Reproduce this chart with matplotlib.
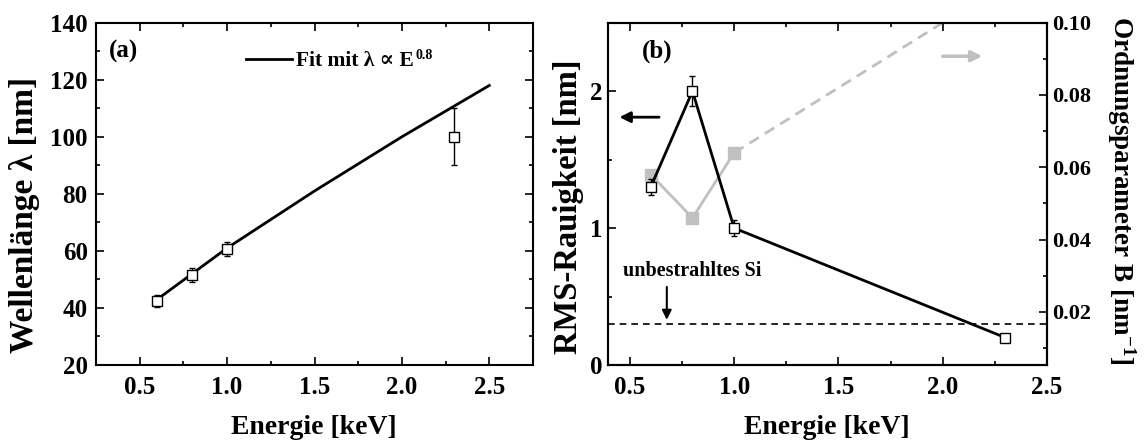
import matplotlib
matplotlib.use("Agg")
import matplotlib.pyplot as plt
from matplotlib.ticker import MultipleLocator, FormatStrFormatter

# ─── Data ─────────────────────────────────────────────────────────────────
energie_a        = [0.6, 0.8, 1.0, 2.3]
wellenlaenge     = [42.5, 51.6, 60.6, 100.0]
wellenlaenge_err = [2.0, 2.5, 2.4, 10.0]

fit_energie      = [0.6, 0.8, 1.0, 1.5, 2.0, 2.5]
fit_wellenlaenge = [43.0, 52.0, 61.0, 81.0, 100.0, 118.0]

energie_b  = [0.6, 0.8, 1.0, 2.3]
rms        = [1.30, 2.00, 1.00, 0.20]
rms_err    = [0.06, 0.11, 0.06, 0.0]

ordnung_e        = [0.6, 0.8, 1.0]
ordnung          = [0.058, 0.046, 0.064]
ordnung_trend_e  = [1.0, 2.0]
ordnung_trend    = [0.064, 0.100]

si_referenz = 0.30

GREY = "#c0c0c0"
W, H = 1146, 443

plt.rcParams["font.family"] = ["Liberation Serif", "DejaVu Serif"]
plt.rcParams["font.weight"] = "bold"
plt.rcParams["mathtext.fontset"] = "custom"
plt.rcParams["mathtext.rm"] = "Liberation Serif:bold"
plt.rcParams["mathtext.it"] = "Liberation Serif:bold"
plt.rcParams["mathtext.bf"] = "Liberation Serif:bold"
plt.rcParams["axes.linewidth"] = 1.5


def style_axis(ax, right=True):
    ax.tick_params(which="both", direction="in", top=True, right=right,
                   width=1.2, labelsize=18, pad=6)
    ax.tick_params(which="major", length=5.5)
    ax.tick_params(which="minor", length=3)
    ax.tick_params(axis="x", pad=8)


fig = plt.figure(figsize=(W / 100, H / 100), dpi=100)

# ─── (a) Wellenlänge ──────────────────────────────────────────────────────
ax1 = fig.add_axes([96 / W, 1 - 365 / H, 437 / W, 342.3 / H])
ax1.plot(fit_energie, fit_wellenlaenge, color="k", lw=2,
         label="Fit mit λ ∝ E")
ax1.errorbar(energie_a, wellenlaenge, yerr=wellenlaenge_err, fmt="s",
             ms=7.5, mfc="white", mec="k", mew=1, ecolor="k", elinewidth=1,
             capsize=2.5, capthick=1, zorder=3)
ax1.set_xlim(0.25, 2.75)
ax1.set_ylim(20, 140)
ax1.xaxis.set_major_locator(MultipleLocator(0.5))
ax1.xaxis.set_minor_locator(MultipleLocator(0.25))
ax1.yaxis.set_major_locator(MultipleLocator(20))
ax1.yaxis.set_minor_locator(MultipleLocator(10))
style_axis(ax1)
ax1.text(0.41, 129.8, "(a)", fontsize=18, ha="center", va="center")
leg = ax1.legend(loc="center left", bbox_to_anchor=(0.343, 0.888),
                 frameon=False, fontsize=15.5, handlelength=2.15,
                 handletextpad=0.2, borderaxespad=0, borderpad=0)

# ─── (b) Rauigkeit + Ordnungsparameter ────────────────────────────────────
ax2 = fig.add_axes([608 / W, 1 - 365 / H, 439 / W, 342.3 / H])
ax2.axhline(si_referenz, color="k", lw=1.2, ls=(0, (4, 3)))
ax2.errorbar(energie_b, rms, yerr=rms_err, fmt="s-", color="k", lw=2,
             ms=7.5, mfc="white", mec="k", mew=1, ecolor="k", elinewidth=1,
             capsize=2.5, capthick=1, zorder=3)
ax2.set_xlim(0.395, 2.5)
ax2.set_ylim(0, 2.5)
ax2.xaxis.set_major_locator(MultipleLocator(0.5))
ax2.xaxis.set_minor_locator(MultipleLocator(0.25))
ax2.yaxis.set_major_locator(MultipleLocator(1))
ax2.yaxis.set_minor_locator(MultipleLocator(0.5))
style_axis(ax2, right=False)
ax2.tick_params(axis="y", pad=4)

ax2.text(0.63, 2.29, "(b)", fontsize=18, ha="center", va="center")
ax2.text(0.466, 0.69, "unbestrahltes Si", fontsize=14.5, ha="left",
         va="center")
ax2.annotate("", xy=(0.677, 0.33), xytext=(0.677, 0.57),
             arrowprops=dict(arrowstyle="-|>", color="k", lw=1.5,
                             mutation_scale=14, shrinkA=0, shrinkB=0))
ax2.annotate("", xy=(0.45, 1.81), xytext=(0.64, 1.81),
             arrowprops=dict(arrowstyle="-|>", color="k", lw=2,
                             mutation_scale=16, shrinkA=0, shrinkB=0))
ax2.annotate("", xy=(2.19, 2.255), xytext=(2.0, 2.255),
             arrowprops=dict(arrowstyle="-|>", color=GREY, lw=2.5,
                             mutation_scale=16, shrinkA=0, shrinkB=0))

ax3 = ax2.twinx()
ax3.plot(ordnung_e, ordnung, "s-", color=GREY, lw=2, ms=8, mec=GREY)
ax3.plot(ordnung_trend_e, ordnung_trend, color=GREY, lw=2,
         ls=(0, (4, 2.5)))
ax3.set_ylim(0.0053, 0.1)
ax3.yaxis.set_major_locator(MultipleLocator(0.02))
ax3.yaxis.set_minor_locator(MultipleLocator(0.01))
ax3.yaxis.set_major_formatter(FormatStrFormatter("%.2f"))
ax3.tick_params(which="both", direction="in", width=1.2, labelsize=16, pad=4)
ax3.tick_params(which="major", length=5.5)
ax3.tick_params(which="minor", length=3)
ax2.set_zorder(ax3.get_zorder() + 1)
ax2.patch.set_visible(False)

# ─── Axis labels ──────────────────────────────────────────────────────────
fig.text(314 / W, 1 - 428 / H, "Energie [keV]", fontsize=20,
         ha="center", va="center")
fig.text(827 / W, 1 - 428 / H, "Energie [keV]", fontsize=20,
         ha="center", va="center")
fig.text(25 / W, 1 - 215 / H, "Wellenlänge λ [nm]", fontsize=24,
         rotation=90, ha="center", va="center")
fig.text(569 / W, 1 - 207 / H, "RMS-Rauigkeit [nm]", fontsize=23.5,
         rotation=90, ha="center", va="center")
fig.text(1121 / W, 1 - 190 / H, r"Ordnungsparameter B [nm$^{-1}$]",
         fontsize=19.5, rotation=270, ha="center", va="center")

# exponent of the fit legend, placed after the legend text
fig.canvas.draw()
bb = leg.get_texts()[0].get_window_extent()
fig.text(bb.x1 + 1, bb.y1 + 2, "0.8", fontsize=10, ha="left", va="top",
         transform=None)

fig.savefig("out.png", dpi=100)
